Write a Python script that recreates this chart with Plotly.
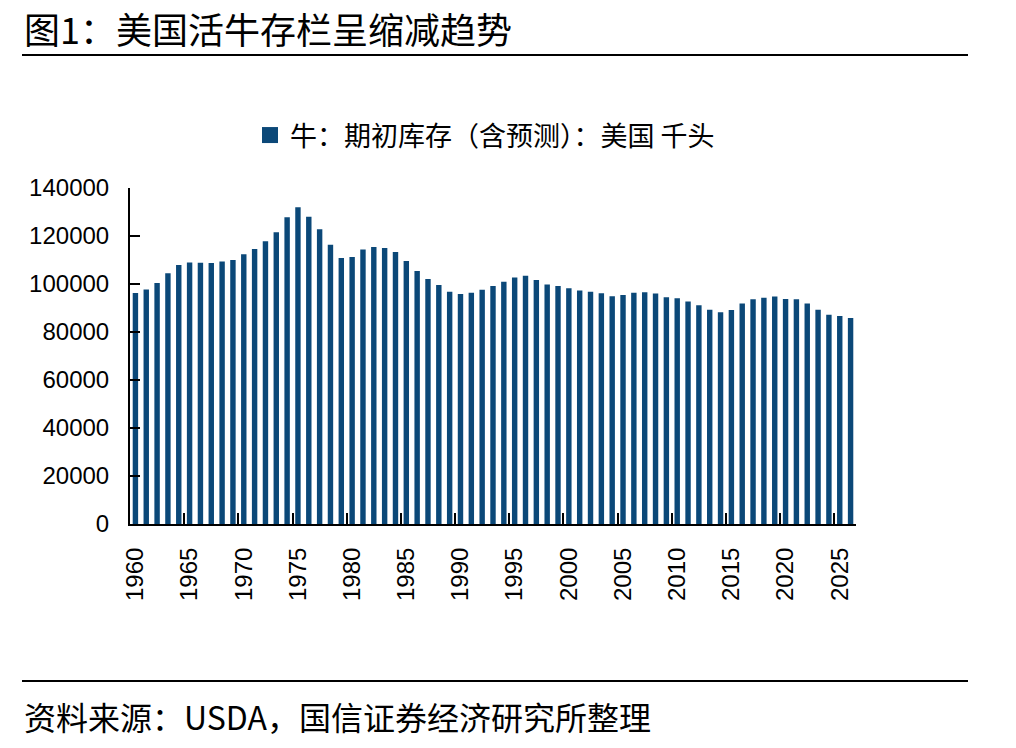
import plotly.graph_objects as go

W, H = 1016, 748

years = list(range(1960, 2027))
cattle = [
    96236, 97700, 100369, 104488, 107903, 109000, 108862, 108783, 109371, 110015,
    112369, 114578, 117862, 121539, 127788, 132028, 127980, 122810, 116375, 110864,
    111242, 114351, 115444, 115001, 113360, 109582, 105378, 102118, 99622, 96740,
    95816, 96393, 97556, 99176, 100988, 102755, 103487, 101656, 99744, 99115,
    98199, 97277, 96723, 96100, 94888, 95438, 96342, 96573, 96035, 94521,
    94081, 92682, 91160, 89300, 88243, 89143, 91918, 93625, 94298, 94805,
    93793, 93595, 91902, 89274, 87157, 86662, 85800,
]
label_years = list(range(1960, 2026, 5))
boundary_ticks = [y - 0.5 for y in range(1965, 2026, 5)]
y_ticks = list(range(0, 140001, 20000))

title_text = "图1：美国活牛存栏呈缩减趋势"
legend_name = "牛：期初库存（含预测）：美国 千头"
source_text = "资料来源：USDA，国信证券经济研究所整理"

BAR = "#0b4878"
CJK = "Noto Sans CJK SC"
NUM = "Liberation Sans, Arial, sans-serif"

fig = go.Figure()
fig.add_trace(go.Bar(
    x=years, y=cattle, name=legend_name, showlegend=False,
    marker=dict(color=BAR, line=dict(width=0)),
    width=0.5,
))
# legend entry with a larger square swatch
fig.add_trace(go.Scatter(
    x=[None], y=[None], mode="markers", name=legend_name,
    marker=dict(symbol="square", size=17, color=BAR),
    hoverinfo="skip",
))
# invisible trace to carry boundary tick axis
fig.add_trace(go.Scatter(x=[years[0]], y=[0], xaxis="x2", yaxis="y",
                         mode="markers", marker=dict(opacity=0),
                         showlegend=False, hoverinfo="skip"))

xd = [130 / W, 856 / W]
yd = [1 - 524 / H, 1 - 188 / H]

fig.update_layout(
    width=W, height=H,
    margin=dict(l=0, r=0, t=0, b=0),
    paper_bgcolor="white", plot_bgcolor="white",
    showlegend=True,
    legend=dict(
        x=250 / W, y=1 - 111 / H, xanchor="left", yanchor="top",
        orientation="h",
        font=dict(family=CJK, size=27, color="black"),
        bgcolor="rgba(0,0,0,0)",
    ),
    bargap=0.5,
    xaxis=dict(
        domain=xd, range=[1959.5, 2026.5],
        tickmode="array", tickvals=label_years,
        ticktext=[str(v) for v in label_years],
        tickangle=-90, ticks="",
        tickfont=dict(family=NUM, size=24, color="black"),
        ticklabelstandoff=12,
        showline=True, linecolor="black", linewidth=2,
        showgrid=False, zeroline=False, automargin=False,
    ),
    xaxis2=dict(
        domain=xd, range=[1959.5, 2026.5], overlaying="x", anchor="y",
        tickmode="array", tickvals=boundary_ticks,
        ticks="inside", ticklen=11, tickwidth=2, tickcolor="black",
        showticklabels=False, showline=False, showgrid=False,
        zeroline=False, automargin=False,
    ),
    yaxis=dict(
        domain=yd, range=[0, 140000],
        tickmode="array", tickvals=y_ticks, tickformat="d",
        ticks="inside", ticklen=10, tickwidth=2, tickcolor="black",
        tickfont=dict(family=NUM, size=24, color="black"),
        ticklabelstandoff=14,
        showline=True, linecolor="black", linewidth=2,
        showgrid=False, zeroline=False, automargin=False,
    ),
)

fig.add_annotation(
    text=title_text, x=22 / W, y=1.0, xref="paper", yref="paper",
    xanchor="left", yanchor="top", showarrow=False,
    font=dict(family=CJK, size=36, color="black"),
)
fig.add_annotation(
    text=source_text, x=22 / W, y=1 - 716 / H, xref="paper", yref="paper",
    xanchor="left", yanchor="middle", showarrow=False,
    font=dict(family=CJK, size=32, color="black"),
)
for yy in (55, 681):
    fig.add_shape(type="line", xref="paper", yref="paper",
                  x0=22 / W, x1=968 / W, y0=1 - yy / H, y1=1 - yy / H,
                  line=dict(color="black", width=2))

fig.write_html("out.html")
